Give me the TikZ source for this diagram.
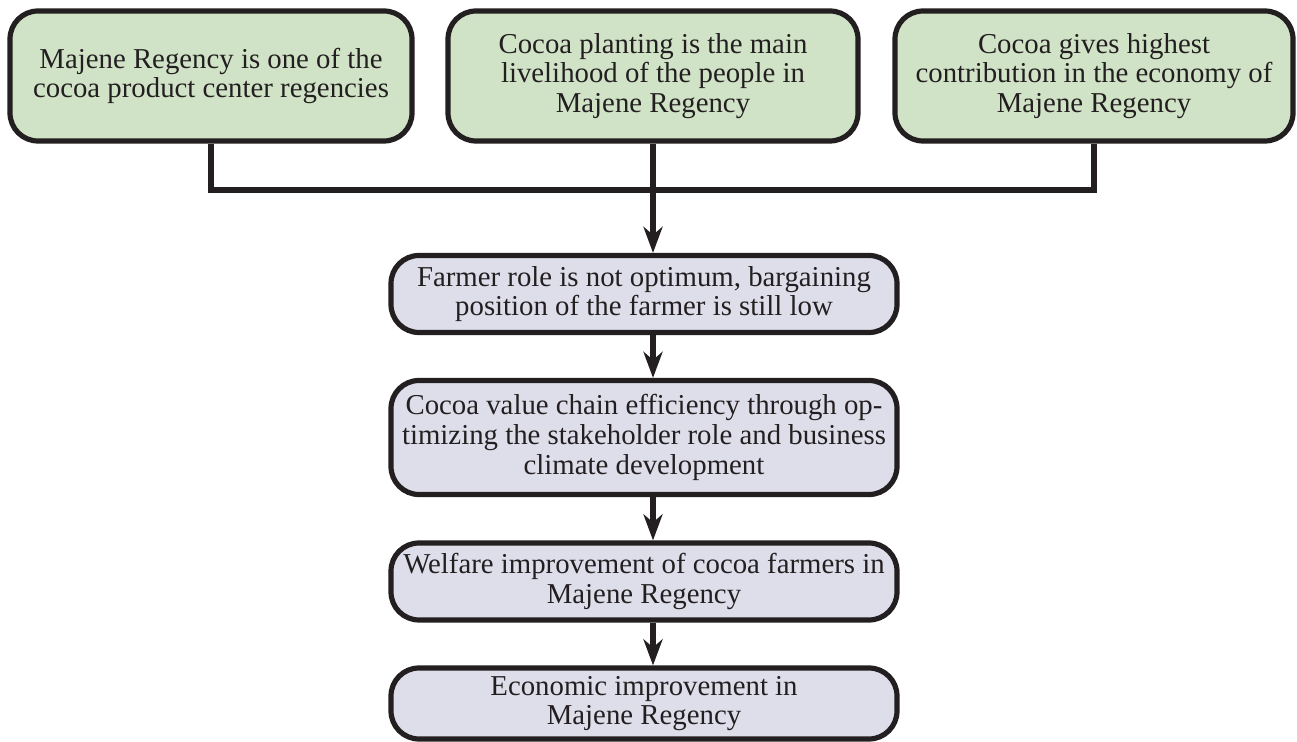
\documentclass[tikz,border=0pt]{standalone}
\usepackage{fontspec}
\setmainfont{Liberation Serif}
\usetikzlibrary{arrows.meta}
\definecolor{gfill}{RGB}{209,227,199}
\definecolor{pfill}{RGB}{222,222,235}
\definecolor{ink}{RGB}{35,31,32}
\begin{document}
\begin{tikzpicture}[x=0.5pt,y=-0.5pt,
  box/.style={draw=ink, line width=2.6pt, rounded corners=14pt, align=center, inner sep=0pt,
     text=ink, font=\fontsize{14.4}{14.8}\selectfont},
  gbox/.style={box, fill=gfill},
  pbox/.style={box, fill=pfill},
  link/.style={draw=ink, line width=2.6pt},
  arr/.style={link, -{Stealth[length=13pt,width=9.5pt,inset=4pt]}}]
\useasboundingbox (0,0) rectangle (1297,742);
\node[gbox, minimum width=201pt, minimum height=65pt] (b1) at (211,76)
  {Majene Regency is one of the\\cocoa product center regencies};
\node[gbox, minimum width=205pt, minimum height=65pt] (b2) at (653,76)
  {Cocoa planting is the main\\livelihood of the people in\\Majene Regency};
\node[gbox, minimum width=199pt, minimum height=65pt] (b3) at (1094,76)
  {Cocoa gives highest\\contribution in the economy of\\Majene Regency};
\node[pbox, minimum width=253pt, minimum height=38.5pt] (farmer) at (644,294)
  {Farmer role is not optimum, bargaining\\position of the farmer is still low};
\node[pbox, minimum width=253pt, minimum height=57pt] (value) at (644,437.5)
  {Cocoa value chain efficiency through op-\\timizing the stakeholder role and business\\climate development};
\node[pbox, minimum width=253pt, minimum height=38.5pt] (welfare) at (644,581.5)
  {Welfare improvement of cocoa farmers in\\Majene Regency};
\node[pbox, minimum width=253pt, minimum height=35.5pt] (econ) at (644,703.5)
  {Economic improvement in\\Majene Regency};
\coordinate (join) at (653,190);
\draw[link] (b1.south) |- (join) -| (b3.south);
\draw[link] (b2.south) -- (join);
\draw[arr] (join) -- (farmer.north -| join);
\draw[arr] (farmer.south -| join) -- (value.north -| join);
\draw[arr] (value.south -| join) -- (welfare.north -| join);
\draw[arr] (welfare.south -| join) -- (econ.north -| join);
\end{tikzpicture}
\end{document}
